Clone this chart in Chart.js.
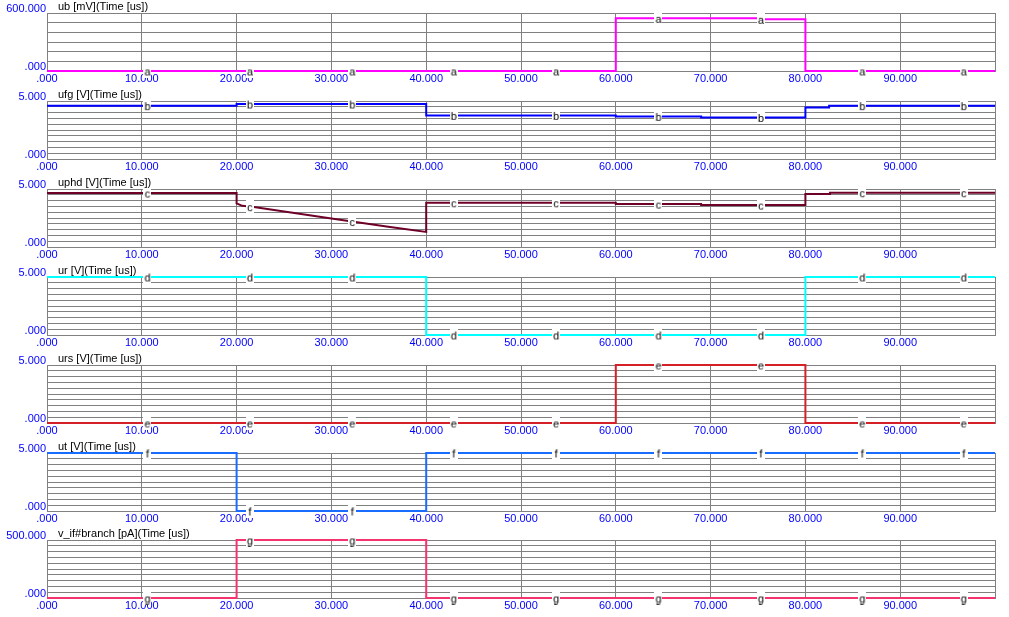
<!DOCTYPE html>
<html><head><meta charset="utf-8">
<script src="https://cdn.jsdelivr.net/npm/chart.js@4.4.1/dist/chart.umd.min.js"></script>
<style>
html,body{margin:0;padding:0;background:#fff;width:1009px;height:617px;overflow:hidden}
.p{position:absolute;left:0;width:1009px;height:88px}
</style></head><body>
<script>
// ---- data ----
const titles = ['ub [mV](Time [us])','ufg [V](Time [us])','uphd [V](Time [us])','ur [V](Time [us])','urs [V](Time [us])','ut [V](Time [us])','v_if#branch [pA](Time [us])'];
const markerLetters = ['a','b','c','d','e','f','g'];
const yMax  = [600, 5, 5, 5, 5, 5, 500];
const yStep = [100, 0.5, 0.5, 0.5, 0.5, 0.5, 50];
const colors = ['#ff00ff','#0000ff','#6e0028','#00ffff','#d42026','#1a6cff','#f5336e'];

const ubX   = [0, 60, 60, 75.2, 75.2, 80, 80, 100];
const ubY   = [0, 0, 545, 545, 535, 535, 0, 0];
const ufgX  = [0, 20, 20, 40, 40, 60, 60, 69, 69, 80, 80, 82.5, 82.5, 100];
const ufgY  = [4.6, 4.6, 4.74, 4.74, 3.76, 3.76, 3.67, 3.67, 3.58, 3.58, 4.45, 4.45, 4.6, 4.6];
const uphdX = [0, 20, 20, 20.6, 22, 30, 36, 40, 40, 60, 60, 69, 69, 80, 80, 82.6, 82.6, 100];
const uphdY = [4.65, 4.65, 3.76, 3.55, 3.42, 2.45, 1.75, 1.3, 3.81, 3.81, 3.7, 3.7, 3.61, 3.61, 4.56, 4.56, 4.68, 4.68];
const urX   = [0, 40, 40, 80, 80, 100];
const urY   = [5, 5, 0, 0, 5, 5];
const ursX  = [0, 60, 60, 80, 80, 100];
const ursY  = [0, 0, 5, 5, 0, 0];
const utX   = [0, 20, 20, 40, 40, 100];
const utY   = [5, 5, 0, 0, 5, 5];
const vifX  = [0, 20, 20, 40, 40, 100];
const vifY  = [0, 0, 500, 500, 0, 0];
const markerX = [10.6, 21.4, 32.2, 42.9, 53.7, 64.5, 75.3, 86.0, 96.7];

const seriesX = [ubX, ufgX, uphdX, urX, ursX, utX, vifX];
const seriesY = [ubY, ufgY, uphdY, urY, ursY, utY, vifY];

// ---- helpers ----
const FONT = 'Liberation Sans';
function fmt(v){ return v === 0 ? '.000' : v.toFixed(3); }
function valueAt(xs, ys, x){
  for (let i = 0; i < xs.length - 1; i++) {
    if (xs[i+1] > xs[i] && x >= xs[i] && x <= xs[i+1]) {
      const t = (x - xs[i]) / (xs[i+1] - xs[i]);
      return ys[i] + t * (ys[i+1] - ys[i]);
    }
  }
  return ys[ys.length - 1];
}
function markerImg(ch){
  const c = document.createElement('canvas'); c.width = 8; c.height = 13;
  const g = c.getContext('2d');
  g.fillStyle = '#fff'; g.fillRect(0, 0, 8, 13);
  g.fillStyle = '#000'; g.font = '11px "' + FONT + '"';
  g.textAlign = 'center'; g.textBaseline = 'alphabetic';
  g.fillText(ch, 4, 11);
  return c;
}
const panelTitle = {
  id: 'panelTitle',
  afterDraw(chart, args, opts){
    const ctx = chart.ctx, a = chart.chartArea;
    ctx.save();
    ctx.fillStyle = '#000';
    ctx.font = '11px "' + FONT + '"';
    ctx.textAlign = 'left'; ctx.textBaseline = 'middle';
    ctx.fillText(opts.text, a.left + 11, a.top - 6);
    ctx.restore();
  }
};

const GRID = '#808080';
for (let i = 0; i < 7; i++) {
  const div = document.createElement('div');
  div.className = 'p';
  div.style.top = Math.round(87.9 * i) + 'px';
  const cv = document.createElement('canvas');
  cv.width = 1009; cv.height = 88;
  div.appendChild(cv);
  document.body.appendChild(div);

  const xs = seriesX[i], ys = seriesY[i];
  const line = xs.map((x, k) => ({x: x, y: ys[k]}));
  const marks = markerX.map(x => ({x: x, y: valueAt(xs, ys, x)}));
  const max = yMax[i];

  new Chart(cv, {
    type: 'line',
    data: { datasets: [
      { data: marks, showLine: false, pointStyle: markerImg(markerLetters[i]), pointRadius: 5, clip: false, order: 0 },
      { data: line, borderColor: colors[i], borderWidth: 2, pointRadius: 0, fill: false, tension: 0,
        borderJoinStyle: 'miter', borderCapStyle: 'butt', clip: false, order: 1 }
    ]},
    options: {
      responsive: false, animation: false, events: [],
      layout: { padding: { top: 13, right: 14, left: 0, bottom: 0 } },
      plugins: { legend: { display: false }, tooltip: { enabled: false }, panelTitle: { text: titles[i] } },
      scales: {
        x: { type: 'linear', min: 0, max: 100,
             ticks: { stepSize: 10, autoSkip: false, maxRotation: 0, padding: 1, color: '#0000ff',
                      font: { family: FONT, size: 11 }, callback: v => v >= 100 ? '' : fmt(v) },
             grid: { color: GRID, drawTicks: false, lineWidth: 1 },
             border: { color: GRID },
             afterFit: s => { s.height = 17; } },
        y: { type: 'linear', min: 0, max: max,
             ticks: { stepSize: yStep[i], autoSkip: false, padding: 1, labelOffset: -4, color: '#0000ff',
                      font: { family: FONT, size: 11 },
                      callback: v => (Math.abs(v) < 1e-9 || Math.abs(v - max) < 1e-9) ? fmt(v) : '' },
             grid: { color: GRID, drawTicks: false, lineWidth: 1 },
             border: { color: GRID },
             afterFit: s => { s.width = 47; } }
      }
    },
    plugins: [panelTitle]
  });
}
</script>
</body></html>
